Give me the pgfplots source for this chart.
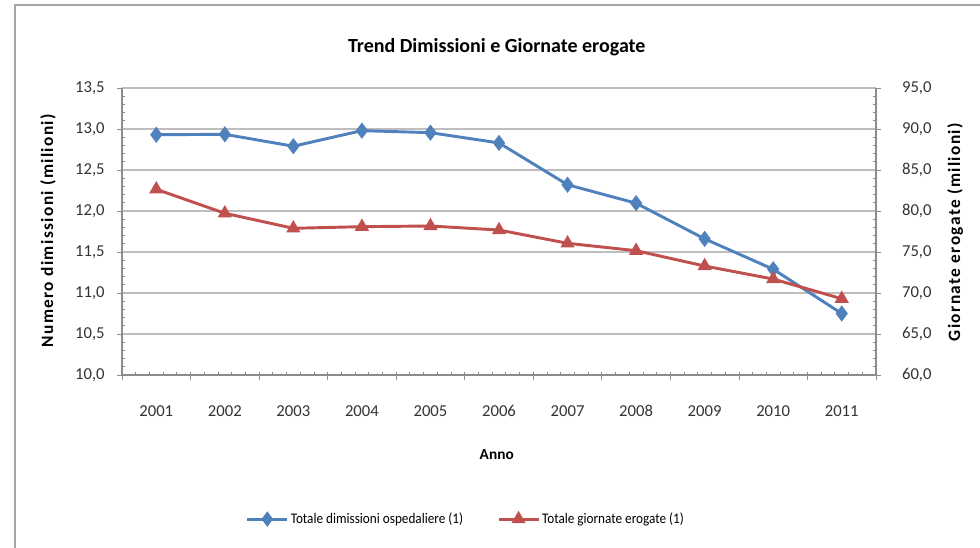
\documentclass[border=0pt]{standalone}
\usepackage{pgfplots}
\pgfplotsset{compat=1.18}
\usepackage{fontspec}
\setmainfont{Carlito}
\definecolor{xlblue}{HTML}{4F81BD}
\definecolor{xlred}{HTML}{C0504D}
\definecolor{gridgray}{HTML}{BEBEBE}
\definecolor{axgray}{HTML}{8C8C8C}
\definecolor{framegray}{HTML}{A6A6A6}

\pgfplotsset{
  xlaxis/.style={
    scale only axis,
    width=565.5pt, height=215.25pt,
    at={(91.5pt,129.75pt)}, anchor=south west,
    xmin=0.5, xmax=11.5,
    axis line style={axgray, line width=0.8pt},
    tick style={axgray, line width=0.6pt},
    tick align=outside,
    major tick length=4pt,
    minor tick length=-2.5pt,
    tick label style={font=\fontsize{12.5}{14}\selectfont, color=black!80},
    /pgf/number format/.cd, use comma, fixed, fixed zerofill, precision=1, assume math mode=true,
  }
}

\begin{document}
\begin{tikzpicture}
\draw[framegray, line width=1.5pt] (11.25pt,0) -- (11.25pt,407.25pt) -- (735pt,407.25pt);

\begin{axis}[
  xlaxis,
  axis x line*=bottom, axis y line*=left,
  ymin=10, ymax=13.5,
  ytick={10,10.5,...,13.5},
  minor y tick num=4,
  ymajorgrids, major grid style={gridgray, line width=0.8pt},
  xtick={0.5,1.5,...,11.5},
  xticklabels={2001,2002,2003,2004,2005,2006,2007,2008,2009,2010,2011,{}},
  minor xtick={0.7,0.9,...,11.4},
  xticklabel style={xshift=25.7pt, yshift=-15pt, text height=8.5pt, text depth=0pt},
  yticklabel style={xshift=-5.5pt},
  xlabel={\textbf{Anno}},
  xlabel style={at={(axis description cs:0.497,-0.279)}, anchor=center, font=\fontsize{11.5}{13}\selectfont},
  ylabel={\textbf{\addfontfeature{LetterSpace=8}Numero dimissioni (milioni)}},
  ylabel style={at={(axis description cs:-0.098,0.505)}, rotate=0, anchor=center, font=\fontsize{13}{15}\selectfont},
  title={\textbf{Trend Dimissioni e Giornate erogate}},
  title style={at={(axis description cs:0.497,1.115)}, anchor=center, yshift=0pt, font=\fontsize{15}{17}\selectfont},
]
\addplot[xlblue, line width=2.2pt, mark=diamond*, mark size=4.3pt, mark options={solid}]
coordinates {
 (1,12.93) (2,12.935) (3,12.79) (4,12.98) (5,12.955) (6,12.83)
 (7,12.32) (8,12.095) (9,11.66) (10,11.29) (11,10.75)
};
\end{axis}

\begin{axis}[
  xlaxis,
  axis x line=none, axis y line*=right,
  ymin=60, ymax=95,
  ytick={60,65,...,95},
  minor y tick num=4,
  yticklabel style={xshift=12pt},
  ylabel={\textbf{\addfontfeature{LetterSpace=8}Giornate erogate (milioni)}},
  every axis y label/.style={at={(axis description cs:1.105,0.5)}, rotate=90, anchor=center, font=\fontsize{13}{15}\selectfont},
  legend columns=2,
  legend style={at={(axis description cs:0.456,-0.502)}, anchor=center, draw=none, fill=none,
    font=\fontsize{11}{13}\selectfont\addfontfeature{FakeStretch=0.9}, column sep=0pt,
    /tikz/every even column/.append style={column sep=24pt},
    nodes={inner sep=1.5pt}},
  legend image code/.code={
    \draw[#1, mark repeat=2, mark phase=2] plot coordinates {(0pt,0pt) (15pt,0pt) (30pt,0pt)};
  },
]
\addlegendimage{xlblue, line width=2.2pt, mark=diamond*, mark size=4pt}
\addlegendentry{Totale dimissioni ospedaliere (1)}
\addplot[xlred, line width=2.2pt, mark=triangle*, mark size=4pt, mark options={solid}]
coordinates {
 (1,82.65) (2,79.72) (3,77.89) (4,78.09) (5,78.17) (6,77.68)
 (7,76.06) (8,75.16) (9,73.29) (10,71.7) (11,69.3)
};
\addlegendentry{Totale giornate erogate (1)}
\end{axis}

\pgfresetboundingbox
\path[use as bounding box] (0,0) rectangle (735pt,411pt);
\end{tikzpicture}
\end{document}
